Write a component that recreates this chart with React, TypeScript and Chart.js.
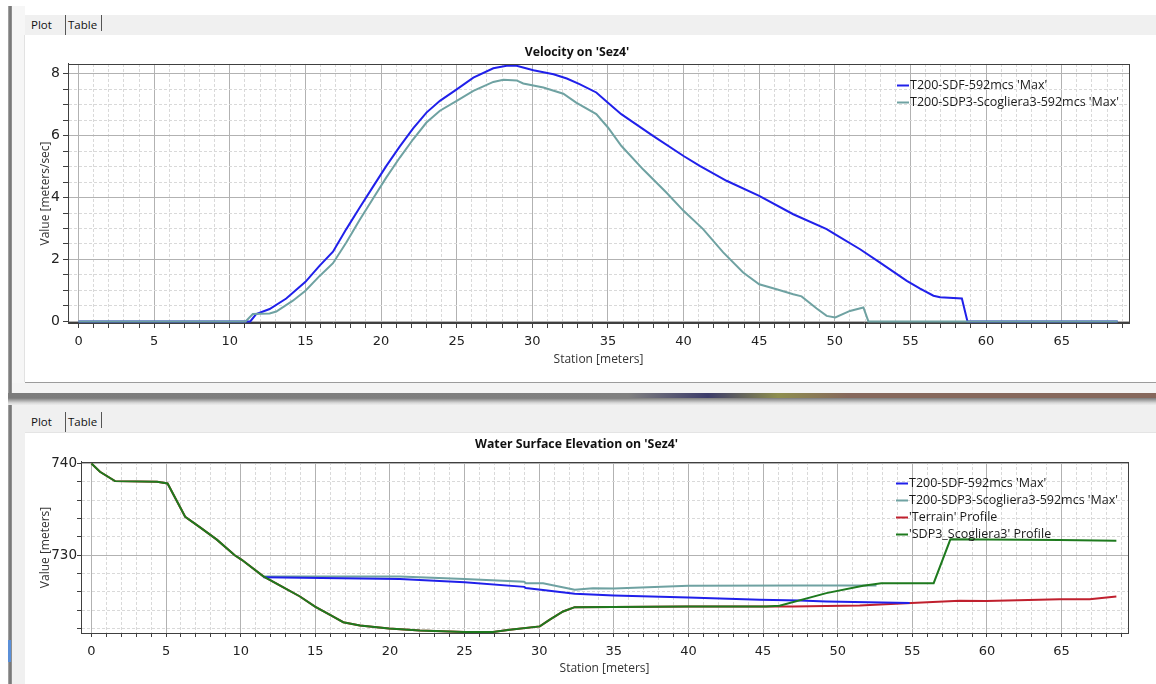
import React, { useEffect, useRef } from "react";
import { Chart, registerables } from "chart.js";

Chart.register(...registerables);

// ---------- Velocity on 'Sez4' ----------
const velTitle = "Velocity on 'Sez4'";
const velYTitle = "Value [meters/sec]";
const stationTitle = "Station [meters]";

const velSdfLabel = "T200-SDF-592mcs 'Max'";
const velSdfStation = [0, 11.35, 11.74, 12.63, 13.73, 15.0, 15.94, 16.82, 17.7, 18.59, 19.47, 20.35, 21.24, 22.12, 23.0, 23.89, 25.0, 26.1, 27.42, 28.3, 28.96, 30.07, 31.4, 32.28, 33.12, 34.23, 35.0, 35.88, 37.98, 40.0, 41.07, 42.84, 45.0, 47.25, 49.46, 50.0, 51.67, 52.99, 54.76, 55.64, 56.52, 56.96, 58.4, 58.77, 68.7];
const velSdfValue = [0, 0, 0.24, 0.4, 0.74, 1.28, 1.8, 2.25, 2.98, 3.68, 4.35, 5.02, 5.65, 6.23, 6.74, 7.12, 7.49, 7.87, 8.17, 8.25, 8.25, 8.11, 7.98, 7.84, 7.66, 7.39, 7.06, 6.69, 5.99, 5.34, 5.02, 4.54, 4.05, 3.46, 2.98, 2.82, 2.33, 1.9, 1.31, 1.06, 0.83, 0.78, 0.74, 0, 0];

const velSdp3Label = "T200-SDP3-Scogliera3-592mcs 'Max'";
const velSdp3Station = [0, 11.04, 11.52, 12.63, 13.07, 14.17, 15.0, 15.94, 16.82, 17.7, 18.59, 19.47, 20.35, 21.24, 22.12, 23.0, 23.89, 25.0, 26.1, 27.42, 28.08, 28.96, 29.4, 30.73, 32.05, 32.9, 34.23, 35.0, 35.88, 37.32, 38.86, 40.0, 41.29, 42.62, 43.94, 45.0, 46.15, 47.25, 47.8, 48.8, 49.46, 50.03, 51.0, 51.89, 52.22, 68.7];
const velSdp3Value = [0, 0, 0.24, 0.26, 0.32, 0.67, 0.99, 1.47, 1.88, 2.55, 3.28, 3.97, 4.65, 5.29, 5.88, 6.42, 6.8, 7.12, 7.44, 7.73, 7.8, 7.78, 7.68, 7.55, 7.35, 7.06, 6.69, 6.26, 5.67, 4.91, 4.16, 3.57, 2.98, 2.23, 1.58, 1.2, 1.04, 0.88, 0.81, 0.42, 0.18, 0.13, 0.34, 0.45, 0, 0];

const velMajorTicks = [0, 2, 4, 6, 8];
const velMinorStep = 0.5;
const velRange = [-0.05, 8.31];

// ---------- Water Surface Elevation on 'Sez4' ----------
const wseTitle = "Water Surface Elevation on 'Sez4'";
const wseYTitle = "Value [meters]";

const wseSdfLabel = "T200-SDF-592mcs 'Max'";
const wseSdfStation = [11.52, 20.66, 25.0, 29.0, 29.1, 30.26, 32.38, 35.0, 40.0, 44.78, 47.45, 49.24, 54.82];
const wseSdfValue = [727.6, 727.42, 727.06, 726.55, 726.42, 726.2, 725.8, 725.6, 725.39, 725.14, 725.07, 724.96, 724.78];

const wseSdp3Label = "T200-SDP3-Scogliera3-592mcs 'Max'";
const wseSdp3Station = [11.52, 20.66, 25.0, 29.0, 29.1, 30.26, 31.15, 32.38, 33.6, 35.0, 40.0, 47.45, 52.6];
const wseSdp3Value = [727.68, 727.68, 727.42, 727.1, 726.95, 726.95, 726.65, 726.23, 726.41, 726.38, 726.67, 726.7, 726.7];

const terrainLabel = "'Terrain' Profile";
const terrainStation = [0, 0.57, 1.58, 4.4, 5.1, 6.28, 7.28, 8.4, 9.6, 10.07, 11.52, 12.86, 13.97, 14.98, 16.2, 16.87, 17.99, 19.93, 22.0, 25.0, 26.9, 28.03, 30.04, 30.71, 31.6, 32.38, 40.0, 45.2, 47.0, 51.47, 54.94, 58.17, 59.96, 64.87, 66.88, 68.67];
const terrainValue = [740, 739.1, 738.08, 738.0, 737.83, 734.2, 733.04, 731.7, 730.0, 729.5, 727.7, 726.5, 725.5, 724.4, 723.3, 722.7, 722.35, 722.0, 721.8, 721.63, 721.63, 721.88, 722.24, 722.97, 723.87, 724.34, 724.4, 724.4, 724.41, 724.52, 724.78, 725.03, 725.0, 725.2, 725.2, 725.5];

const sdp3ProfileLabel = "'SDP3_Scogliera3' Profile";
const sdp3ProfileStation = [0, 0.57, 1.58, 4.4, 5.1, 6.28, 7.28, 8.4, 9.6, 10.07, 11.52, 12.86, 13.97, 14.98, 16.2, 16.87, 17.99, 19.93, 22.0, 25.0, 26.9, 28.03, 30.04, 30.71, 31.6, 32.38, 40.0, 45.2, 46.1, 49.24, 51.7, 52.92, 56.43, 57.55, 64.87, 68.67];
const sdp3ProfileValue = [740, 739.1, 738.08, 738.0, 737.83, 734.2, 733.04, 731.7, 730.0, 729.5, 727.7, 726.5, 725.5, 724.4, 723.3, 722.7, 722.35, 722.0, 721.8, 721.63, 721.63, 721.88, 722.24, 722.97, 723.87, 724.34, 724.4, 724.4, 724.5, 725.87, 726.66, 726.95, 726.95, 731.74, 731.67, 731.59];

const wseMajorTicks = [730, 740];
const wseMinorStep = 2;
const wseRange = [721.52, 740.17];

// ---------- shared station axis ----------
const stationMajorTicks = [0, 5, 10, 15, 20, 25, 30, 35, 40, 45, 50, 55, 60, 65];
const stationMinorStep = 1;
const stationRange = [-0.7, 69.45];

const COLORS = {
  sdf: "#2020ea",
  sdp3: "#6fa2a2",
  terrain: "#c0202e",
  profile: "#1e7a1e",
};

const pts = (xs: number[], ys: number[]) => xs.map((x, i) => ({ x, y: ys[i] }));

function tickList(range: number[], step: number) {
  const out: number[] = [];
  const start = Math.ceil(range[0] / step);
  const end = Math.floor(range[1] / step);
  for (let i = start; i <= end; i++) out.push(+(i * step).toFixed(6));
  return out;
}

function axis(
  range: number[],
  step: number,
  majors: number[],
  title: string,
  opts: { horizontal: boolean; size: number; tickLen: number; pad: number; titlePad: any; fontSize: number }
) {
  const isMajor = (c: any) => !!c.tick && majors.some((m) => Math.abs(m - c.tick.value) < 1e-6);
  return {
    type: "linear",
    min: range[0],
    max: range[1],
    afterBuildTicks: (s: any) => {
      s.ticks = tickList(range, step).map((v) => ({ value: v }));
    },
    afterFit: (s: any) => {
      if (opts.horizontal) s.height = opts.size;
      else s.width = opts.size;
    },
    ticks: {
      autoSkip: false,
      maxRotation: 0,
      padding: opts.pad,
      color: "#222",
      font: { family: "DejaVu Sans", size: opts.fontSize },
      callback: (v: any) => (majors.some((m) => Math.abs(m - v) < 1e-6) ? String(v) : ""),
    },
    grid: {
      color: (c: any) => (isMajor(c) ? "#b2b2b2" : "#d9d9d9"),
      lineWidth: 1,
      tickLength: opts.tickLen,
      tickColor: "#404040",
      tickWidth: 1,
    },
    border: {
      display: true,
      color: "#404040",
      width: 1,
      dash: (c: any) => (!c.tick || isMajor(c) ? [] : [3, 2]),
    },
    title: {
      display: true,
      text: title,
      color: "#333",
      font: { family: "Open Sans", size: 12 },
      padding: opts.titlePad,
    },
  };
}

const framePlugin = {
  id: "frame",
  afterDraw(chart: any) {
    const { ctx, chartArea: a } = chart;
    ctx.save();
    ctx.strokeStyle = "#404040";
    ctx.lineWidth = 1;
    ctx.strokeRect(Math.round(a.left) + 0.5, Math.round(a.top) + 0.5, Math.round(a.right - a.left), Math.round(a.bottom - a.top));
    ctx.restore();
  },
};

const insideLegend = {
  id: "insideLegend",
  afterDraw(chart: any, _args: any, o: any) {
    const { ctx, chartArea: a } = chart;
    ctx.save();
    ctx.font = '12.5px "Open Sans"';
    ctx.textBaseline = "middle";
    const x0 = a.right - o.fromRight;
    chart.data.datasets.forEach((d: any, i: number) => {
      const y = Math.round(a.top + o.top + i * o.row) + 0.5;
      ctx.strokeStyle = d.borderColor;
      ctx.lineWidth = 2;
      ctx.beginPath();
      ctx.moveTo(x0, y);
      ctx.lineTo(x0 + 12, y);
      ctx.stroke();
      ctx.fillStyle = "#1a1a1a";
      ctx.fillText(d.label, x0 + 13, y);
    });
    ctx.restore();
  },
};

const lineDs = (label: string, data: any[], color: string, width: number, order = 0) => ({
  label,
  data,
  borderColor: color,
  backgroundColor: color,
  borderWidth: width,
  pointRadius: 0,
  tension: 0,
  fill: false,
  order,
});

function Tabs({ top, height, textTop }: { top: number; height: number; textTop: number }) {
  const txt: React.CSSProperties = {
    position: "absolute",
    top: textTop,
    fontSize: 11.5,
    lineHeight: "14px",
    color: "#111",
    fontFamily: '"Open Sans", sans-serif',
  };
  return (
    <div style={{ position: "absolute", left: 25, top, width: 1131, height, background: "#f0f0f0" }}>
      <span style={{ ...txt, left: 6 }}>Plot</span>
      <div style={{ position: "absolute", left: 40, top: textTop - 3, width: 1, height: height - textTop + 3, background: "#555" }} />
      <span style={{ ...txt, left: 43 }}>Table</span>
      <div style={{ position: "absolute", left: 76, top: textTop - 3, width: 1, height: 16, background: "#555" }} />
    </div>
  );
}

export default function App() {
  const topRef = useRef<HTMLCanvasElement>(null);
  const botRef = useRef<HTMLCanvasElement>(null);

  useEffect(() => {
    const top = new Chart(topRef.current as HTMLCanvasElement, {
      type: "line",
      data: {
        datasets: [
          lineDs(velSdfLabel, pts(velSdfStation, velSdfValue), COLORS.sdf, 2, 1),
          lineDs(velSdp3Label, pts(velSdp3Station, velSdp3Value), COLORS.sdp3, 2, 0),
        ],
      },
      options: {
        responsive: false,
        animation: false,
        events: [],
        layout: { padding: { left: 0, top: 0, right: 27, bottom: 0 } },
        scales: {
          x: axis(stationRange, stationMinorStep, stationMajorTicks, stationTitle, {
            horizontal: true, size: 59, tickLen: 5, pad: 6, titlePad: { top: 0, bottom: 14.8 }, fontSize: 13,
          }),
          y: axis(velRange, velMinorStep, velMajorTicks, velYTitle, {
            horizontal: false, size: 43, tickLen: 5, pad: 3, titlePad: { top: 13.8, bottom: 0 }, fontSize: 14,
          }),
        },
        plugins: {
          legend: { display: false },
          tooltip: { enabled: false },
          title: {
            display: true,
            text: velTitle,
            color: "#111",
            font: { family: "Open Sans", size: 12.3, weight: "bold" },
            padding: { top: 8.8, bottom: 4.4 },
          },
          insideLegend: { fromRight: 232, top: 21, row: 17.5 },
        } as any,
      } as any,
      plugins: [framePlugin, insideLegend],
    } as any);

    const bot = new Chart(botRef.current as HTMLCanvasElement, {
      type: "line",
      data: {
        datasets: [
          lineDs(wseSdfLabel, pts(wseSdfStation, wseSdfValue), COLORS.sdf, 2, 0),
          lineDs(wseSdp3Label, pts(wseSdp3Station, wseSdp3Value), COLORS.sdp3, 2, 0),
          lineDs(terrainLabel, pts(terrainStation, terrainValue), COLORS.terrain, 2, 0),
          lineDs(sdp3ProfileLabel, pts(sdp3ProfileStation, sdp3ProfileValue), COLORS.profile, 2, -1),
        ],
      },
      options: {
        responsive: false,
        animation: false,
        events: [],
        layout: { padding: { left: 0, top: 0, right: 28, bottom: 0 } },
        scales: {
          x: axis(stationRange, stationMinorStep, stationMajorTicks, stationTitle, {
            horizontal: true, size: 51, tickLen: 4, pad: 7, titlePad: { top: 0, bottom: 8.5 }, fontSize: 13,
          }),
          y: axis(wseRange, wseMinorStep, wseMajorTicks, wseYTitle, {
            horizontal: false, size: 56, tickLen: 4, pad: 0, titlePad: { top: 13.8, bottom: 0 }, fontSize: 13.5,
          }),
        },
        plugins: {
          legend: { display: false },
          tooltip: { enabled: false },
          title: {
            display: true,
            text: wseTitle,
            color: "#111",
            font: { family: "Open Sans", size: 12.3, weight: "bold" },
            padding: { top: 4.6, bottom: 9.6 },
          },
          insideLegend: { fromRight: 232, top: 20.6, row: 17 },
        } as any,
      } as any,
      plugins: [framePlugin, insideLegend],
    } as any);

    return () => {
      top.destroy();
      bot.destroy();
    };
  }, []);

  return (
    <div style={{ position: "fixed", left: 0, top: 0, width: 1156, height: 684, background: "#fff", overflow: "hidden" }}>
      {/* left window edge */}
      <div style={{ position: "absolute", left: 8, top: 6, width: 4, height: 678, background: "linear-gradient(to right, #b0b0b0, #6e6e6e, #9a9a9a)" }} />
      <div style={{ position: "absolute", left: 12, top: 6, width: 13, height: 678, background: "#f6f6f6" }} />
      <div style={{ position: "absolute", left: 24, top: 35, width: 1, height: 347, background: "#e2e2e2" }} />
      <div style={{ position: "absolute", left: 8, top: 640, width: 3, height: 22, background: "#5a8fd8" }} />

      {/* top panel */}
      <Tabs top={15} height={20} textTop={3} />
      <canvas ref={topRef} width={1131} height={346} style={{ position: "absolute", left: 25, top: 36, display: "block" }} />
      <div style={{ position: "absolute", left: 25, top: 382, width: 1131, height: 1, background: "#9c9c9c" }} />
      <div style={{ position: "absolute", left: 12, top: 383, width: 1144, height: 10, background: "#f4f4f4" }} />

      {/* window separator */}
      <div
        style={{
          position: "absolute", left: 8, top: 393, width: 1148, height: 5,
          background: "linear-gradient(to right, #7c7c7c 0px, #808080 620px, #3c3c6a 700px, #8e8e4e 770px, #86685c 840px, #86685c 1148px)",
        }}
      />
      <div style={{ position: "absolute", left: 8, top: 398, width: 1148, height: 7, background: "linear-gradient(to bottom, #7a7a7a, #d8d8d8 70%, #ececec)" }} />

      {/* bottom panel */}
      <div style={{ position: "absolute", left: 12, top: 405, width: 13, height: 279, background: "#f0f0f0" }} />
      <Tabs top={405} height={27} textTop={10} />
      <div style={{ position: "absolute", left: 25, top: 432, width: 1131, height: 1, background: "#e4e4e4" }} />
      <canvas ref={botRef} width={1131} height={251} style={{ position: "absolute", left: 25, top: 433, display: "block" }} />
    </div>
  );
}
